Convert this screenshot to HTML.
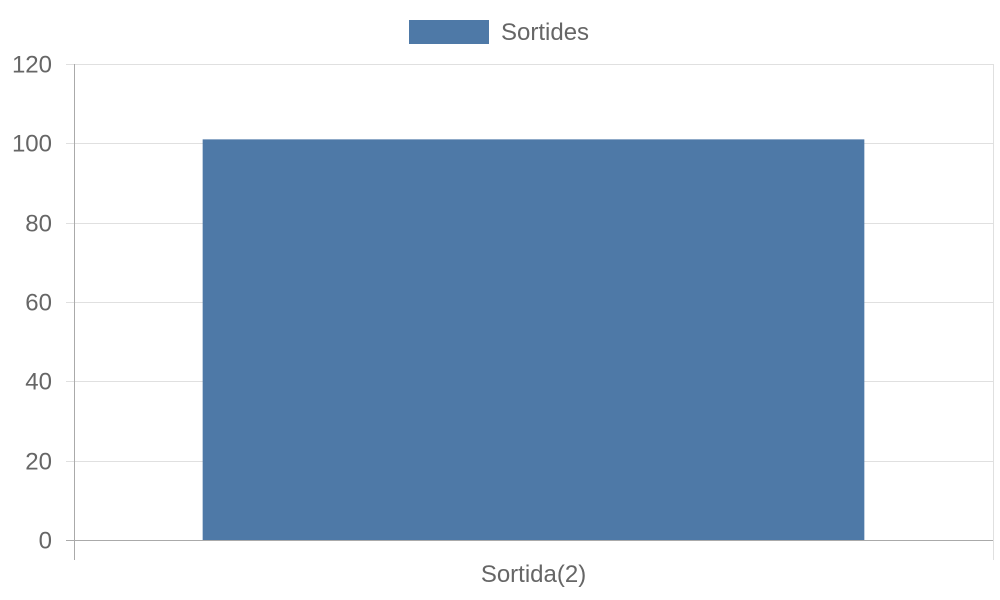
<!DOCTYPE html>
<html><head><meta charset="utf-8">
<style>
html,body{margin:0;padding:0;background:#fff;}
svg{display:block;font-family:"Liberation Sans",sans-serif;}
</style></head>
<body>
<svg id="chart" width="1000" height="600">
  <g id="legend">
    <rect x="409" y="20" width="80" height="24" fill="#4e79a7"></rect>
    <text x="501" y="40" font-size="24" fill="#666">Sortides</text>
  </g>
  <g id="grid"></g>
  <g id="yticks"></g>
  <g id="bars"></g>
  <g id="xaxis"></g>
</svg>
<script>
const categories = ["Sortida(2)"];
const values = [101];
const yTicks = [0, 20, 40, 60, 80, 100, 120];

const NS = "http://www.w3.org/2000/svg";
const plotL = 74, plotR = 993, plotT = 64, plotB = 540;
const yMin = 0, yMax = 120;
function yScale(v){ return plotB - (v - yMin) / (yMax - yMin) * (plotB - plotT); }
const catW = (plotR - plotL) / categories.length;
function xCenter(i){ return plotL + catW * (i + 0.5); }
function mk(tag, attrs, parent){ const e = document.createElementNS(NS, tag); for (const k in attrs) e.setAttribute(k, attrs[k]); parent.appendChild(e); return e; }

const grid = document.getElementById('grid');
const yt = document.getElementById('yticks');
yTicks.forEach(t => {
  const yy = Math.round(yScale(t)) + 0.5;
  const ln = mk('line', {x1: 66, x2: plotR, y1: yy, y2: yy, stroke: t === 0 ? '#aaa' : '#e0e0e0', 'stroke-width': 1}, grid);
  
  
  const tx = mk('text', {x: 52, y: yy + 8, 'text-anchor': 'end', 'font-size': 24, fill: '#666'}, yt);
  tx.textContent = t;
  
  
});

const xa = document.getElementById('xaxis');
const axL = mk('line', {x1: plotL + 0.5, x2: plotL + 0.5, y1: plotT, y2: 560, stroke: '#aaa', 'stroke-width': 1}, xa);


const axR = mk('line', {x1: plotR + 0.5, x2: plotR + 0.5, y1: plotT, y2: 560, stroke: '#e0e0e0', 'stroke-width': 1}, xa);



const bars = document.getElementById('bars');
categories.forEach((c, i) => {
  const w = catW * 0.72;
  const b = mk('rect', {x: xCenter(i) - w / 2, y: yScale(values[i]), width: w, height: plotB - yScale(values[i]), fill: '#4e79a7'}, bars);
  
  
  const t = mk('text', {x: xCenter(i), y: 582, 'text-anchor': 'middle', 'font-size': 24, fill: '#666'}, xa);
  t.textContent = c;
  
  
});
</script>
</body></html>
